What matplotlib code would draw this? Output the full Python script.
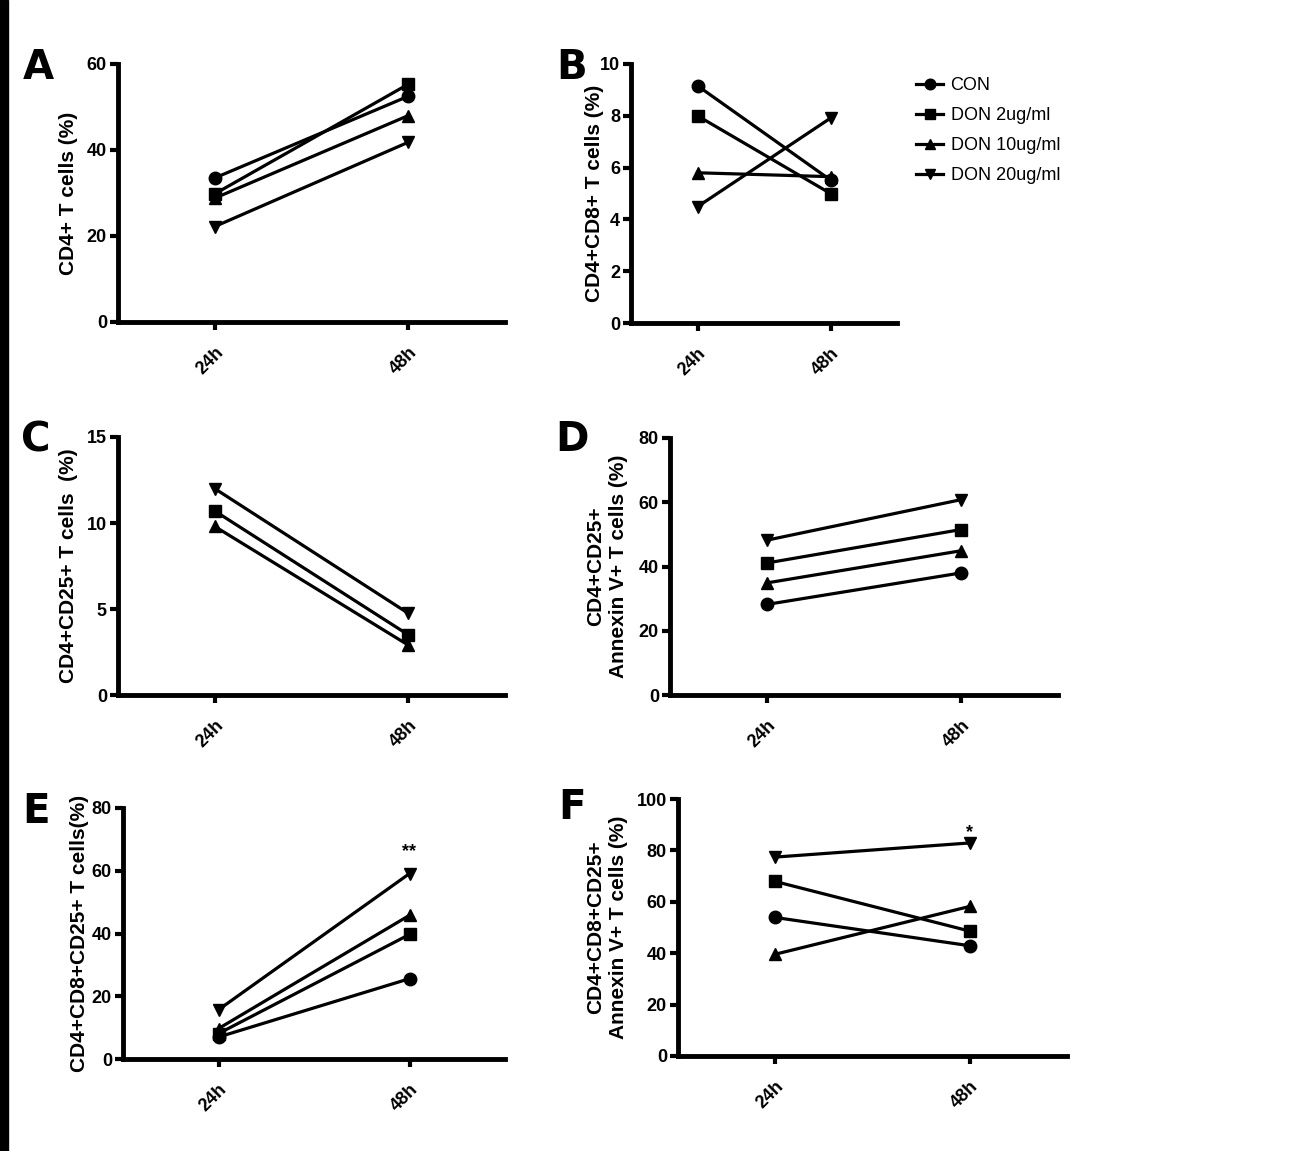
import matplotlib
matplotlib.use("Agg")
import matplotlib.pyplot as plt
from matplotlib.patches import Rectangle
import numpy as np

W, H = 1297, 1151
DPI = 100

times = ["24h", "48h"]
series_names = ["CON", "DON 2ug/ml", "DON 10ug/ml", "DON 20ug/ml"]
markers = ["o", "s", "^", "v"]

# Panel A: CD4+ T cells (%)
A_con = [33.5, 52.5]
A_don2 = [29.8, 55.3]
A_don10 = [28.8, 48.0]
A_don20 = [22.2, 41.8]

# Panel B: CD4+CD8+ T cells (%)
B_con = [9.16, 5.52]
B_don2 = [8.0, 5.0]
B_don10 = [5.8, 5.65]
B_don20 = [4.49, 7.91]

# Panel C: CD4+CD25+ T cells (%)  (CON not visible in the reference)
C_con = [None, None]
C_don2 = [10.7, 3.5]
C_don10 = [9.8, 2.9]
C_don20 = [12.0, 4.75]

# Panel D: CD4+CD25+ Annexin V+ T cells (%)
D_con = [28.2, 38.0]
D_don2 = [41.1, 51.5]
D_don10 = [34.9, 44.9]
D_don20 = [48.2, 60.8]

# Panel E: CD4+CD8+CD25+ T cells (%)
E_con = [7.0, 25.6]
E_don2 = [8.1, 39.7]
E_don10 = [9.7, 45.8]
E_don20 = [15.7, 59.1]

# Panel F: CD4+CD8+CD25+ Annexin V+ T cells (%)
F_con = [53.9, 42.9]
F_don2 = [67.9, 48.6]
F_don10 = [39.6, 58.2]
F_don20 = [77.4, 82.9]

panels = [
    dict(letter="A", data=[A_con, A_don2, A_don10, A_don20], ymax=60, yticks=[0, 20, 40, 60],
         ylabel="CD4+ T cells (%)", box=(118, 505, 64, 322), lab_x=68, let=(38, 68), star=None),
    dict(letter="B", data=[B_con, B_don2, B_don10, B_don20], ymax=10, yticks=[0, 2, 4, 6, 8, 10],
         ylabel="CD4+CD8+ T cells (%)", box=(631, 897, 64, 323), lab_x=595, let=(572, 68), star=None),
    dict(letter="C", data=[C_con, C_don2, C_don10, C_don20], ymax=15, yticks=[0, 5, 10, 15],
         ylabel="CD4+CD25+ T cells  (%)", box=(118, 505, 437, 695), lab_x=68, let=(36, 440), star=None),
    dict(letter="D", data=[D_con, D_don2, D_don10, D_don20], ymax=80, yticks=[0, 20, 40, 60, 80],
         ylabel="CD4+CD25+\nAnnexin V+ T cells (%)", box=(670, 1058, 438, 695), lab_x=607, let=(572, 440), star=None),
    dict(letter="E", data=[E_con, E_don2, E_don10, E_don20], ymax=80, yticks=[0, 20, 40, 60, 80],
         ylabel="CD4+CD8+CD25+ T cells(%)", box=(123, 505, 808, 1059), lab_x=80, let=(36, 812), star=("**", 66)),
    dict(letter="F", data=[F_con, F_don2, F_don10, F_don20], ymax=100, yticks=[0, 20, 40, 60, 80, 100],
         ylabel="CD4+CD8+CD25+\nAnnexin V+ T cells (%)", box=(678, 1067, 799, 1056), lab_x=607, let=(572, 808), star=("*", 87)),
]

fig = plt.figure(figsize=(W / DPI, H / DPI), dpi=DPI)
fig.patches.append(Rectangle((0, 0), 8 / W, 1, transform=fig.transFigure, color="black", zorder=0))

tick_font = dict(family="Liberation Sans", weight="bold", size=13)
x = np.array([1, 2])

for p in panels:
    l, r, t, b = p["box"]
    ax = fig.add_axes([l / W, 1 - b / H, (r - l) / W, (b - t) / H])
    for vals, m, name in zip(p["data"], markers, series_names):
        y = np.array([np.nan if v is None else v for v in vals], dtype=float)
        ax.plot(x, y, color="black", lw=2.3, marker=m, ms=9, mfc="black", mec="black",
                label=name, clip_on=False, zorder=3)
    ax.set_xlim(0.5, 2.5)
    ax.set_ylim(0, p["ymax"])
    ax.set_yticks(p["yticks"])
    ax.set_xticks(x)
    ax.set_xticklabels(times, rotation=45, ha="right", va="top", rotation_mode="anchor", **tick_font)
    ax.set_yticklabels([str(v) for v in p["yticks"]], **tick_font)
    for s in ["top", "right"]:
        ax.spines[s].set_visible(False)
    for s in ["left", "bottom"]:
        ax.spines[s].set_linewidth(3.5)
    ax.tick_params(axis="both", direction="out", length=6, width=3, pad=2)
    ax.tick_params(axis="x", pad=10)
    ax.set_ylabel(p["ylabel"], family="Liberation Sans", weight="bold", size=15, linespacing=1.25)
    ax.yaxis.set_label_coords((p["lab_x"] - l) / (r - l), 0.5)
    ax.yaxis.label.set_horizontalalignment("center")
    ax.yaxis.label.set_verticalalignment("center")
    if p["star"]:
        ax.text(2, p["star"][1], p["star"][0], ha="center", va="center", fontsize=13,
                family="Liberation Sans", weight="bold")
    fig.text(p["let"][0] / W, 1 - p["let"][1] / H, p["letter"], ha="center", va="center",
             fontsize=29, weight="bold", family="DejaVu Sans")
    if p["letter"] == "B":
        leg = ax.legend(loc="upper left", bbox_to_anchor=(909 / W, 1 - 70 / H),
                        bbox_transform=fig.transFigure, frameon=False, handlelength=1.5,
                        handletextpad=0.4, labelspacing=0.72, borderaxespad=0,
                        prop=dict(family="Liberation Sans", size=13),
                        markerscale=0.85)

fig.savefig("out.png", dpi=DPI, facecolor="white")
